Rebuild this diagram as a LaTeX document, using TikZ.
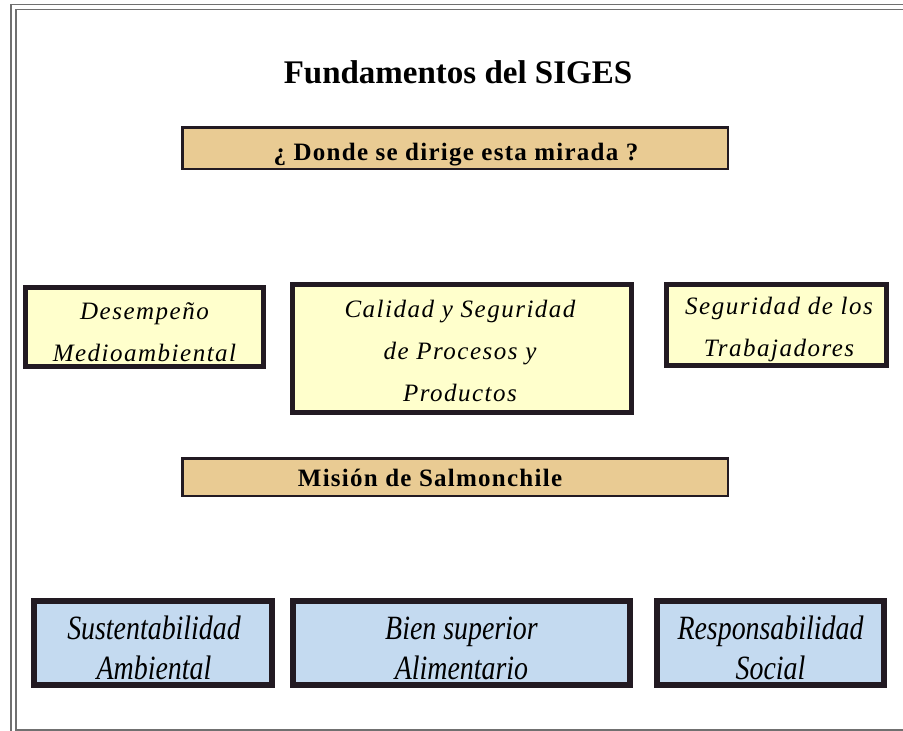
\documentclass[tikz,border=0pt]{standalone}
\usepackage{fontspec}
\setmainfont{Liberation Serif}
\newfontfamily\itspaced[LetterSpace=6]{Liberation Serif Italic}
\newfontfamily\itnarrow[FakeStretch=0.82]{Liberation Serif Italic}
\newfontfamily\bdspaced[LetterSpace=5]{Liberation Serif Bold}
\newfontfamily\bdtitle{Liberation Serif Bold}
\definecolor{tanfill}{HTML}{E9CB93}
\definecolor{yelfill}{HTML}{FFFFCC}
\definecolor{bluefill}{HTML}{C4DAF0}
\definecolor{edge}{HTML}{221A22}
\definecolor{framec}{HTML}{707070}
\begin{document}
\begin{tikzpicture}[x=1pt,y=-1pt,
  banner/.style={draw=edge,line width=2.5pt,fill=tanfill,inner sep=0pt,
    minimum width=545.5pt},
  bannertext/.style={inner sep=0pt,font=\bdspaced\fontsize{25}{28}\selectfont},
  yelbox/.style={draw=edge,line width=5pt,fill=yelfill,inner sep=0pt},
  yeltext/.style={inner sep=0pt,align=center,font=\itspaced\fontsize{25}{42}\selectfont},
  bluebox/.style={draw=edge,line width=6pt,fill=bluefill,inner sep=0pt},
  bluetext/.style={inner sep=0pt,align=center,font=\itnarrow\fontsize{34}{40}\selectfont},
  frameline/.style={draw=framec,line width=1.2pt}]
\useasboundingbox (0,0) rectangle (903,731);
\fill[white] (0,0) rectangle (903,731);
% frame
\draw[frameline] (11,731) -- (11,4.5) -- (903,4.5);
\draw[frameline] (16,731) -- (16,9.5) -- (903,9.5);
\draw[frameline] (16,730) -- (903,730);
% title
\node (title) at (458,72) {\bdtitle\fontsize{33}{36}\selectfont Fundamentos del SIGES};
% banners
\node[banner,minimum height=41.5pt] (donde) at (455,148) {};
\node[bannertext] (dondet) at (456,155) {¿ Donde se dirige esta mirada ?};
\node[banner,minimum height=37.5pt] (mision) at (455,477) {};
\node[bannertext] (misiont) at (430,478) {Misión de Salmonchile};
% yellow boxes
\node[yelbox,minimum width=238pt,minimum height=79pt] (desemp) at (144.5,327) {};
\node[yeltext] (desempt) at (144.5,332) {Desempeño\\Medioambiental};
\node[yelbox,minimum width=339pt,minimum height=128pt] (calidad) at (462,348.5) {};
\node[yeltext] (calidadt) at (460,351) {Calidad y Seguridad\\de Procesos y\\Productos};
\node[yelbox,minimum width=220pt,minimum height=81pt] (segur) at (776.5,325) {};
\node[yeltext] (segurt) at (779,329) {Seguridad de los\\Trabajadores};
% blue boxes
\node[bluebox,minimum width=238pt,minimum height=84pt] (susten) at (153,643) {};
\node[bluetext] (sustent) at (154,648) {Sustentabilidad\\Ambiental};
\node[bluebox,minimum width=337pt,minimum height=84pt] (bien) at (461.5,643) {};
\node[bluetext] (bient) at (461.5,648) {Bien superior\\Alimentario};
\node[bluebox,minimum width=227pt,minimum height=84pt] (respon) at (770.5,643) {};
\node[bluetext] (respont) at (770.5,648) {Responsabilidad\\Social};
\end{tikzpicture}
\end{document}
